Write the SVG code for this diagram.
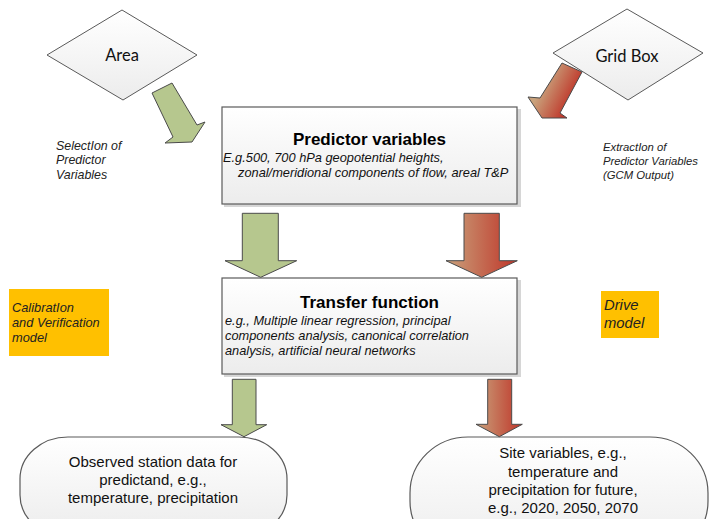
<svg xmlns="http://www.w3.org/2000/svg" width="709" height="519" viewBox="0 0 709 519">
<defs>
  <linearGradient id="boxGrad" x1="0" y1="0" x2="0" y2="1">
    <stop offset="0" stop-color="#FFFFFF"/>
    <stop offset="1" stop-color="#ECECEC"/>
  </linearGradient>
  <linearGradient id="redGrad" x1="0" y1="0" x2="1" y2="0">
    <stop offset="0" stop-color="#C9A27C"/>
    <stop offset="1" stop-color="#BF3428"/>
  </linearGradient>
  <linearGradient id="redDiag" gradientUnits="userSpaceOnUse" x1="545" y1="80" x2="575" y2="95">
    <stop offset="0" stop-color="#C9A27C"/>
    <stop offset="1" stop-color="#BF3428"/>
  </linearGradient>
</defs>
<style>
  .box { fill: url(#boxGrad); stroke: #5A5A5A; stroke-width: 1.2; }
  .shadow { fill: #D6D6D6; }
  .diamond { fill: url(#boxGrad); stroke: #5A5A5A; stroke-width: 1; }
  .green { fill: #B6C78E; stroke: #4A4A4A; stroke-width: 1; stroke-linejoin: miter; }
  .red { fill: url(#redGrad); stroke: #4A4A4A; stroke-width: 1; }
  .orange { fill: #FFC000; }
  .title { font-family: "Liberation Sans", Arial, sans-serif; font-weight: bold; font-size: 17px; fill: #000; text-anchor: middle; }
  .sub { font-family: "Liberation Sans", Arial, sans-serif; font-style: italic; font-size: 12.8px; fill: #111; }
  .note { font-family: "Liberation Sans", Arial, sans-serif; font-style: italic; fill: #222; }
  .oval { font-family: "Liberation Sans", Arial, sans-serif; font-size: 15px; fill: #111; text-anchor: middle; }
  .dtext { font-family: "Lato", "Open Sans", sans-serif; font-size: 16.5px; fill: #111; text-anchor: middle; }
</style>

<g id="area">
  <polygon class="diamond" points="47,55 122,10 197,55 123,100"/>
  <text class="dtext" x="122" y="61">Area</text>
</g>

<g id="gridbox">
  <polygon class="diamond" points="553,53 627,9 703,53 628,100"/>
  <text class="dtext" x="627" y="62">Grid Box</text>
</g>

<g id="predictor">
  <rect class="shadow" x="224" y="109" width="297" height="98"/>
  <rect class="box" x="222" y="107" width="295" height="97"/>
  <text class="title" x="369.5" y="145">Predictor variables</text>
  <text class="sub" x="223" y="162">E.g.500, 700 hPa geopotential heights,</text>
  <text class="sub" x="238" y="177">zonal/meridional components of flow, areal T&amp;P</text>
</g>

<g id="transfer">
  <rect class="shadow" x="224" y="280" width="297" height="97"/>
  <rect class="box" x="222" y="278" width="295" height="96"/>
  <text class="title" x="369.5" y="308">Transfer function</text>
  <text class="sub" x="225" y="325">e.g., Multiple linear regression, principal</text>
  <text class="sub" x="225" y="340">components analysis, canonical correlation</text>
  <text class="sub" x="225" y="355">analysis, artificial neural networks</text>
</g>

<g id="observed">
  <rect class="box" x="20" y="437" width="267" height="100" rx="48" ry="42"/>
  <text class="oval" x="153" y="467">Observed station data for</text>
  <text class="oval" x="153" y="485">predictand, e.g.,</text>
  <text class="oval" x="153" y="503">temperature, precipitation</text>
</g>

<g id="site">
  <rect class="box" x="410" y="437" width="298" height="120" rx="58" ry="56"/>
  <text class="oval" x="563" y="458">Site variables, e.g.,</text>
  <text class="oval" x="563" y="477">temperature and</text>
  <text class="oval" x="563" y="495">precipitation for future,</text>
  <text class="oval" x="563" y="513">e.g., 2020, 2050, 2070</text>
</g>

<g id="calibration">
  <rect class="orange" x="9" y="289" width="100" height="67"/>
  <text class="note" font-size="12.8" x="12" y="312">CalibratIon</text>
  <text class="note" font-size="12.8" x="12" y="327">and Verification</text>
  <text class="note" font-size="12.8" x="12" y="342">model</text>
</g>

<g id="drive">
  <rect class="orange" x="601" y="291" width="58" height="47"/>
  <text class="note" font-size="14.8" x="604" y="310">Drive</text>
  <text class="note" font-size="14.8" x="604" y="328">model</text>
</g>

<g id="selection-label">
  <text class="note" font-size="12.4" x="56" y="149.5">SelectIon of</text>
  <text class="note" font-size="12.4" x="56" y="164">Predictor</text>
  <text class="note" font-size="12.4" x="56" y="179">Variables</text>
</g>

<g id="extraction-label">
  <text class="note" font-size="11.3" x="603" y="150.5">ExtractIon of</text>
  <text class="note" font-size="11.3" x="603" y="165">Predictor Variables</text>
  <text class="note" font-size="11.3" x="603" y="179">(GCM Output)</text>
</g>

<g id="connectors">
  <polygon class="green" points="152,93 172,83 197,125 205,122 192,142 165,143 173,137"/>
  <polygon class="red" style="fill:url(#redDiag)" points="562,63 582,72 560,113 567,118 542,118 528,97 540,98"/>
  <polygon class="green" points="242.3,213.3 278.3,213.3 278.3,260.7 296.7,260.7 260.7,277.3 225,260.7 242.3,260.7"/>
  <polygon class="red" points="464,213.3 499.3,213.3 499.3,260.7 517.3,260.7 481.7,277.3 446,260.7 464,260.7"/>
  <polygon class="green" points="232.3,379.3 256,379.3 256,424.7 266.7,424.7 244,436.7 221,424.7 232.3,424.7"/>
  <polygon class="red" points="487.7,379.3 511.7,379.3 511.7,424.3 522.3,424.3 499.3,436.7 476,424.3 487.7,424.3"/>
</g>
</svg>
